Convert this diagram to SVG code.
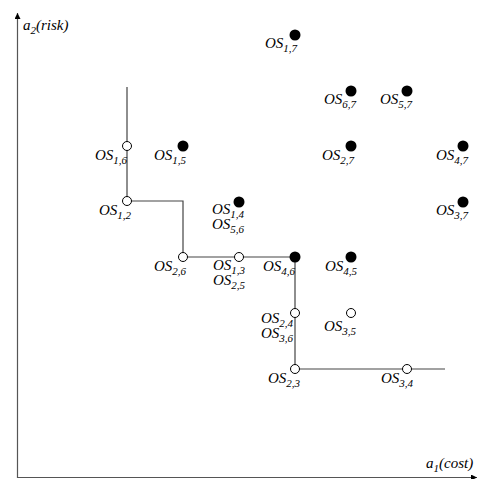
<svg xmlns="http://www.w3.org/2000/svg" width="479" height="479" viewBox="0 0 479 479">
<defs>
<style>
text{font-family:"Liberation Serif","Times New Roman",serif;font-style:italic;font-size:15px;fill:#000}
.sub{font-size:11px}
.open{fill:#fff;stroke:#000;stroke-width:1}
.full{fill:#000}
.ax{stroke:#555;stroke-width:1.2;fill:none}
.front{stroke:#444;stroke-width:1.2;fill:none}
</style>
<marker id="arr" markerWidth="8" markerHeight="8" refX="6" refY="3" orient="auto" markerUnits="userSpaceOnUse">
<path d="M0,0 L6,3 L0,6 z" fill="#000"/>
</marker>
</defs>
<rect width="479" height="479" fill="#fff"/>
<g id="axes">
<line class="ax" x1="17.5" y1="478" x2="17.5" y2="13" marker-end="url(#arr)"/>
<line class="ax" x1="17" y1="477.5" x2="477" y2="477.5" marker-end="url(#arr)"/>
<text x="23" y="30">a<tspan class="sub" dy="4">2</tspan><tspan dy="-4">(risk)</tspan></text>
<text x="426" y="468">a<tspan class="sub" dy="4">1</tspan><tspan dy="-4">(cost)</tspan></text>
</g>
<g id="connectors">
<polyline class="front" points="127,87 127,201 183,201 183,257 295,257 295,369 445,369"/>
</g>
<g id="os17"><circle class="full" cx="295" cy="35" r="5.5"/><text x="265" y="48">OS<tspan class="sub" dy="3.5">1,7</tspan></text></g>
<g id="os67"><circle class="full" cx="351" cy="91" r="5.5"/><text x="324" y="104">OS<tspan class="sub" dy="3.5">6,7</tspan></text></g>
<g id="os57"><circle class="full" cx="407" cy="91" r="5.5"/><text x="380" y="104">OS<tspan class="sub" dy="3.5">5,7</tspan></text></g>
<g id="os16"><circle class="open" cx="127" cy="146" r="4.5"/><text x="95" y="160">OS<tspan class="sub" dy="3.5">1,6</tspan></text></g>
<g id="os15"><circle class="full" cx="183" cy="146" r="5.5"/><text x="154" y="160">OS<tspan class="sub" dy="3.5">1,5</tspan></text></g>
<g id="os27"><circle class="full" cx="351" cy="146" r="5.5"/><text x="322" y="160">OS<tspan class="sub" dy="3.5">2,7</tspan></text></g>
<g id="os47"><circle class="full" cx="463" cy="146" r="5.5"/><text x="436" y="160">OS<tspan class="sub" dy="3.5">4,7</tspan></text></g>
<g id="os12"><circle class="open" cx="127" cy="201" r="4.5"/><text x="99" y="215">OS<tspan class="sub" dy="3.5">1,2</tspan></text></g>
<g id="os14"><circle class="full" cx="239" cy="202" r="5.5"/><text x="212" y="214">OS<tspan class="sub" dy="3.5">1,4</tspan></text><text x="212" y="229">OS<tspan class="sub" dy="3.5">5,6</tspan></text></g>
<g id="os37"><circle class="full" cx="463" cy="202" r="5.5"/><text x="436" y="215">OS<tspan class="sub" dy="3.5">3,7</tspan></text></g>
<g id="os26"><circle class="open" cx="183" cy="257" r="4.5"/><text x="154" y="271">OS<tspan class="sub" dy="3.5">2,6</tspan></text></g>
<g id="os13"><circle class="open" cx="239" cy="257" r="4.5"/><text x="213" y="270">OS<tspan class="sub" dy="3.5">1,3</tspan></text><text x="213" y="285">OS<tspan class="sub" dy="3.5">2,5</tspan></text></g>
<g id="os46"><circle class="full" cx="295" cy="257" r="5.5"/><text x="263" y="271">OS<tspan class="sub" dy="3.5">4,6</tspan></text></g>
<g id="os45"><circle class="full" cx="351" cy="257" r="5.5"/><text x="325" y="271">OS<tspan class="sub" dy="3.5">4,5</tspan></text></g>
<g id="os24"><circle class="open" cx="295" cy="313" r="4.5"/><text x="261" y="323">OS<tspan class="sub" dy="3.5">2,4</tspan></text><text x="261" y="338">OS<tspan class="sub" dy="3.5">3,6</tspan></text></g>
<g id="os35"><circle class="open" cx="351" cy="313" r="4.5"/><text x="324" y="331">OS<tspan class="sub" dy="3.5">3,5</tspan></text></g>
<g id="os23"><circle class="open" cx="295" cy="369" r="4.5"/><text x="268" y="383">OS<tspan class="sub" dy="3.5">2,3</tspan></text></g>
<g id="os34"><circle class="open" cx="407" cy="369" r="4.5"/><text x="381" y="383">OS<tspan class="sub" dy="3.5">3,4</tspan></text></g>
</svg>
